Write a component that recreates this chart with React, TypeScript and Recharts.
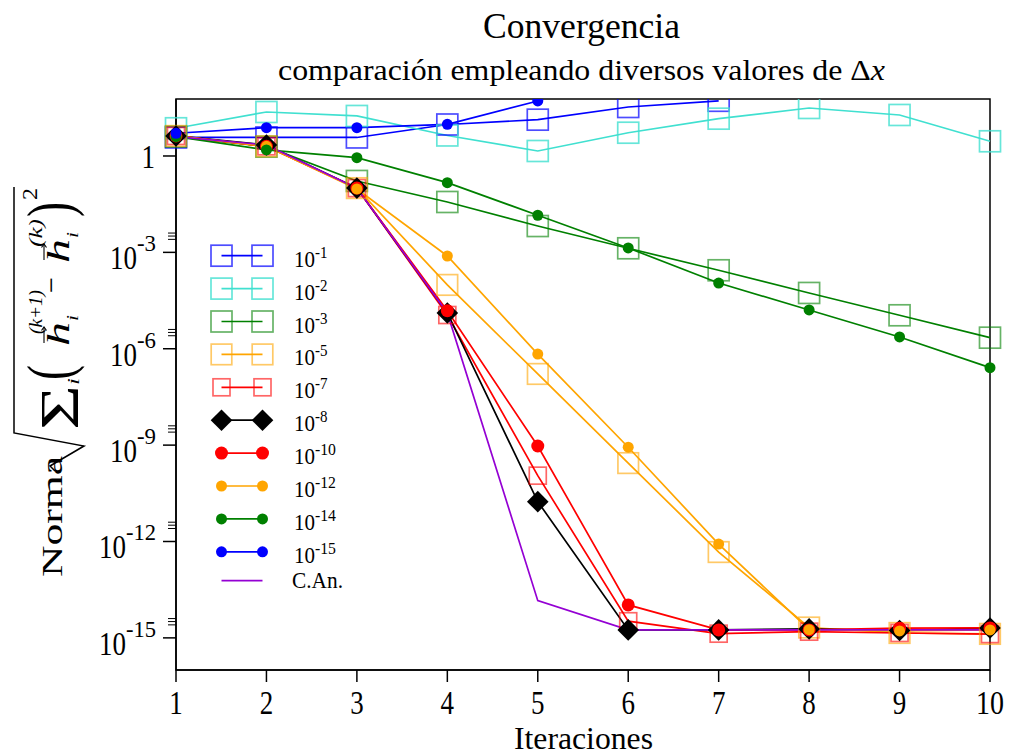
import React from 'react';
import { LineChart, Line, XAxis, YAxis, Legend, ReferenceArea } from 'recharts';

const SERIF = '"Liberation Serif", "Times New Roman", Times, serif';

// ---------- data ----------
const iterations = [1, 2, 3, 4, 5, 6, 7, 8, 9, 10];
const xTicks = [1, 2, 3, 4, 5, 6, 7, 8, 9, 10];
const yTicks = [1, 1e-3, 1e-6, 1e-9, 1e-12, 1e-15];
const yDomain = [1e-16, 59.4];

const dx1e1 = [3.77, 3.77, 3.77, 9.55, 13.5, 33.5, 52.2];
const dx1e2 = [7.3, 23.4, 17.6, 4.35, 1.43, 5.3, 14.5, 31.2, 18.9, 2.87];
const dx1e3 = [4.0, 1.95, 0.167, 0.037, 6.6e-3, 1.34e-3, 2.77e-4, 5.45e-5, 1.1e-5, 2.21e-6];
const dx1e5 = [4.2, 2.0, 0.1, 9.7e-5, 1.64e-7, 2.76e-10, 4.7e-13, 2.1e-15, 1.42e-15, 1.33e-15];
const dx1e7 = [4.2, 2.0, 0.1, 1.12e-5, 1.12e-10, 3.3e-15, 1.35e-15, 1.56e-15, 1.42e-15, 1.31e-15];
const dx1e8 = [4.2, 2.2, 0.1, 1.3e-5, 1.74e-11, 1.77e-15, 1.77e-15, 1.9e-15, 1.69e-15, 2.04e-15];
const dx1e10 = [4.2, 2.0, 0.1, 1.53e-5, 9.4e-10, 1.06e-14, 1.77e-15, 1.77e-15, 2.0e-15, 2.04e-15];
const dx1e12 = [4.2, 2.0, 0.094, 7.7e-4, 6.8e-7, 8.6e-10, 8.3e-13, 1.8e-15, 1.65e-15, 1.77e-15];
const dx1e14 = [4.0, 1.54, 0.885, 0.148, 0.0143, 1.37e-3, 1.11e-4, 1.61e-5, 2.33e-6, 2.58e-7];
const dx1e15 = [5.1, 7.6, 7.6, 9.7, 51.6];
const analytic = [4.0, 2.2, 0.1, 1.3e-5, 1.44e-14, 1.77e-15, 1.77e-15, 1.77e-15, 1.77e-15, 1.77e-15];

type Marker = 'square' | 'diamond' | 'circle' | 'none';
interface SeriesDef {
  key: string;
  label: string;
  values: number[];
  color: string;
  marker: Marker;
  size: number;
  markerOpacity: number;
}

const seriesDefs: SeriesDef[] = [
  { key: 'd1', label: '-1', values: dx1e1, color: '#0000ff', marker: 'square', size: 10.5, markerOpacity: 0.7 },
  { key: 'd2', label: '-2', values: dx1e2, color: '#40e0d0', marker: 'square', size: 10.5, markerOpacity: 0.8 },
  { key: 'd3', label: '-3', values: dx1e3, color: '#008000', marker: 'square', size: 10.5, markerOpacity: 0.6 },
  { key: 'd5', label: '-5', values: dx1e5, color: '#ffa500', marker: 'square', size: 10.3, markerOpacity: 0.6 },
  { key: 'd7', label: '-7', values: dx1e7, color: '#ff0000', marker: 'square', size: 8.5, markerOpacity: 0.6 },
  { key: 'd8', label: '-8', values: dx1e8, color: '#000000', marker: 'diamond', size: 10.8, markerOpacity: 1 },
  { key: 'd10', label: '-10', values: dx1e10, color: '#ff0000', marker: 'circle', size: 6.5, markerOpacity: 1 },
  { key: 'd12', label: '-12', values: dx1e12, color: '#ffa500', marker: 'circle', size: 5.5, markerOpacity: 1 },
  { key: 'd14', label: '-14', values: dx1e14, color: '#008000', marker: 'circle', size: 5.5, markerOpacity: 1 },
  { key: 'd15', label: '-15', values: dx1e15, color: '#0000ff', marker: 'circle', size: 5.5, markerOpacity: 1 },
  { key: 'an', label: 'C.An.', values: analytic, color: '#9400d3', marker: 'none', size: 0, markerOpacity: 1 },
];

const data = iterations.map((x, i) => {
  const row: Record<string, number> = { x };
  seriesDefs.forEach((s) => {
    if (i < s.values.length) row[s.key] = s.values[i];
  });
  return row;
});

// ---------- markers ----------
function drawMarker(s: SeriesDef, cx: number, cy: number, key?: string) {
  const h = s.size;
  if (s.marker === 'square') {
    return (
      <rect key={key} x={cx - h} y={cy - h} width={2 * h} height={2 * h} fill="none"
        stroke={s.color} strokeOpacity={s.markerOpacity} strokeWidth={1.7} />
    );
  }
  if (s.marker === 'diamond') {
    return (
      <path key={key} d={`M${cx} ${cy - h} L${cx + h} ${cy} L${cx} ${cy + h} L${cx - h} ${cy} Z`} fill={s.color} />
    );
  }
  if (s.marker === 'circle') {
    return <circle key={key} cx={cx} cy={cy} r={h} fill={s.color} />;
  }
  return <g key={key} />;
}

const makeDot = (s: SeriesDef) => (props: any) => {
  const { cx, cy, index, value } = props;
  const k = `${s.key}-${index}`;
  if (cx == null || cy == null || value == null || isNaN(cx) || isNaN(cy)) return <g key={k} />;
  return drawMarker(s, cx, cy, k);
};

// ---------- stretched text helper ----------
const SText = (p: {
  x: number; y: number; size: number; text: React.ReactNode; len?: number;
  anchor?: 'start' | 'middle' | 'end'; sy?: number; italic?: boolean;
}) => (
  <g transform={`translate(${p.x},${p.y}) scale(1,${p.sy ?? 1.2})`}>
    <text x={0} y={0} fontFamily={SERIF} fontSize={p.size} fill="#000"
      textAnchor={p.anchor ?? 'start'}
      fontStyle={p.italic ? 'italic' : undefined}
      textLength={p.len} lengthAdjust={p.len ? 'spacingAndGlyphs' : undefined}>
      {p.text}
    </text>
  </g>
);

// ---------- ticks ----------
const YTick = (props: any) => {
  const { x, y, payload } = props;
  const v = payload.value as number;
  const exp = Math.round(Math.log10(v));
  const right = x;
  const axisX = x + 20;
  if (exp === 0) {
    return <SText x={right - 1} y={y + 12} size={27} text="1" anchor="end" sy={1.22} />;
  }
  const expStr = `${exp}`;
  const expW = expStr.length === 2 ? 19 : 30;
  return (
    <g>
      {[13, 16.3, 19.3].map((d) => (
        <line key={d} x1={axisX - 8} x2={axisX} y1={y - d} y2={y - d} stroke="#000" strokeWidth={1} />
      ))}
      <SText x={right - expW} y={y + 17} size={27} len={27} text="10" anchor="end" sy={1.22} />
      <SText x={right} y={y - 1} size={19} len={expW} text={expStr} anchor="end" sy={1.2} />
    </g>
  );
};

const XTick = (props: any) => {
  const { x, y, payload } = props;
  const t = `${payload.value}`;
  return <SText x={x} y={y + 30} size={27} text={t} anchor="middle" sy={1.22} len={t.length === 2 ? 28 : undefined} />;
};

// ---------- legend ----------
const LEG_LEFT = 190;
const LEG_TOP = 230;
const LegendContent = (props: any) => {
  const raw: any[] = props.payload || [];
  const payload = seriesDefs
    .map((d) => raw.find((p) => p.dataKey === d.key))
    .filter(Boolean) as any[];
  return (
    <svg width={200} height={380} style={{ display: 'block', overflow: 'visible' }}>
      {payload.map((p, i) => {
        const s = seriesDefs.find((d) => d.key === p.dataKey);
        if (!s) return null;
        const isLast = s.marker === 'none';
        const cy = isLast ? 350.7 : 25.7 + 32.9 * i;
        const x1 = 31.5;
        const x2 = 72.5;
        return (
          <g key={s.key}>
            <line x1={x1} x2={x2} y1={cy} y2={cy} stroke={s.color} strokeWidth={1.7} />
            {s.marker !== 'none' && drawMarker(s, x1, cy)}
            {s.marker !== 'none' && drawMarker(s, x2, cy)}
            {isLast ? (
              <SText x={102} y={cy + 7} size={21} len={51} text={s.label} sy={1.08} />
            ) : (
              <g>
                <SText x={104} y={cy + 11} size={21} len={21} text="10" sy={1.08} />
                <SText x={125} y={cy + 2} size={15} len={s.label.length === 3 ? 21 : 12.5} text={s.label} sy={1.08} />
              </g>
            )}
          </g>
        );
      })}
    </svg>
  );
};

// ---------- rotated y label ----------
const RT = (p: { sx: number; sy: number; fs: number; len: number; text: string; italic?: boolean }) => (
  <text transform={`translate(${p.sx},${p.sy}) rotate(-90)`} fontFamily={SERIF} fontSize={p.fs}
    fill="#000" textLength={p.len} lengthAdjust="spacingAndGlyphs"
    fontStyle={p.italic ? 'italic' : undefined}>
    {p.text}
  </text>
);

const Arrow = (p: { x: number; y0: number; y1: number }) => (
  <g stroke="#000" strokeWidth={1.1} fill="none">
    <line x1={p.x} x2={p.x} y1={p.y0} y2={p.y1} />
    <path d={`M${p.x - 2.5} ${p.y1 + 3.5} L${p.x} ${p.y1} L${p.x + 2.5} ${p.y1 + 3.5}`} />
  </g>
);

const Overlay = () => (
  <svg width={1011} height={756} style={{ position: 'absolute', left: 0, top: 0, pointerEvents: 'none' }}>
    {/* titles */}
    <SText x={483} y={38} size={30} len={197} text="Convergencia" sy={1.2} />
    <g transform="translate(278,80) scale(1,1.2)">
      <text x={0} y={0} fontFamily={SERIF} fontSize={24} fill="#000" textLength={607} lengthAdjust="spacingAndGlyphs">
        comparación empleando diversos valores de Δ<tspan fontStyle="italic">x</tspan>
      </text>
    </g>
    {/* x label */}
    <SText x={514} y={749} size={26} len={139} text="Iteraciones" sy={1.2} />
    {/* y label */}
    <RT sx={62} sy={577} fs={30} len={121} text="Norma" />
    <path d="M55 471 L50 466 L84 446 L14 433 L14 187" fill="none" stroke="#000" strokeWidth={1.5} />
    <RT sx={78} sy={430} fs={54} len={45} text="Σ" />
    <RT sx={79} sy={385} fs={17} len={7} text="i" italic />
    <RT sx={71} sy={380} fs={64} len={15} text="(" />
    <RT sx={69} sy={346} fs={31} len={24} text="h" italic />
    <Arrow x={44} y0={343} y1={327} />
    <RT sx={78} sy={321} fs={17} len={6} text="i" italic />
    <RT sx={42} sy={334} fs={18} len={44} text="(k+1)" italic />
    <RT sx={61} sy={293} fs={30} len={16} text="−" />
    <RT sx={69} sy={263} fs={31} len={24} text="h" italic />
    <Arrow x={44} y0={260} y1={244} />
    <RT sx={78} sy={238} fs={17} len={6} text="i" italic />
    <RT sx={42} sy={247} fs={18} len={28} text="(k)" italic />
    <RT sx={71} sy={217} fs={64} len={15} text=")" />
    <RT sx={37} sy={200} fs={21} len={12} text="2" />
  </svg>
);

export default function App() {
  return (
    <div style={{ position: 'absolute', left: 0, top: 0, width: 1011, height: 756, background: '#fff' }}>
      <LineChart width={1011} height={756} data={data} margin={{ top: 99, right: 21, left: 0, bottom: 0 }}>
        <XAxis dataKey="x" type="number" domain={[1, 10]} ticks={xTicks} height={86}
          stroke="#000" axisLine={{ stroke: '#000', strokeWidth: 1.5 }}
          tickLine={{ stroke: '#000', strokeWidth: 1.5 }} tickSize={12} tickMargin={2}
          tick={<XTick />} interval={0} />
        <YAxis type="number" scale="log" domain={yDomain} allowDataOverflow ticks={yTicks} width={176}
          stroke="#000" axisLine={{ stroke: '#000', strokeWidth: 1.5 }}
          tickLine={{ stroke: '#000', strokeWidth: 1.5 }} tickSize={13} tickMargin={7}
          tick={<YTick />} interval={0} />
        <ReferenceArea x1={1} x2={10} y1={yDomain[0]} y2={yDomain[1]} fill="none" fillOpacity={0}
          stroke="#000" strokeWidth={1.5} strokeOpacity={1} />
        {seriesDefs.map((s) => (
          <Line key={s.key} dataKey={s.key} name={s.label} type="linear" stroke={s.color}
            strokeWidth={1.7} dot={s.marker === 'none' ? false : makeDot(s)} activeDot={false}
            isAnimationActive={false} connectNulls={false} />
        ))}
        <Legend layout="horizontal" verticalAlign="middle" align="center"
          wrapperStyle={{ left: LEG_LEFT, top: LEG_TOP, width: 200, height: 380 }}
          content={<LegendContent />} />
      </LineChart>
      <Overlay />
    </div>
  );
}
